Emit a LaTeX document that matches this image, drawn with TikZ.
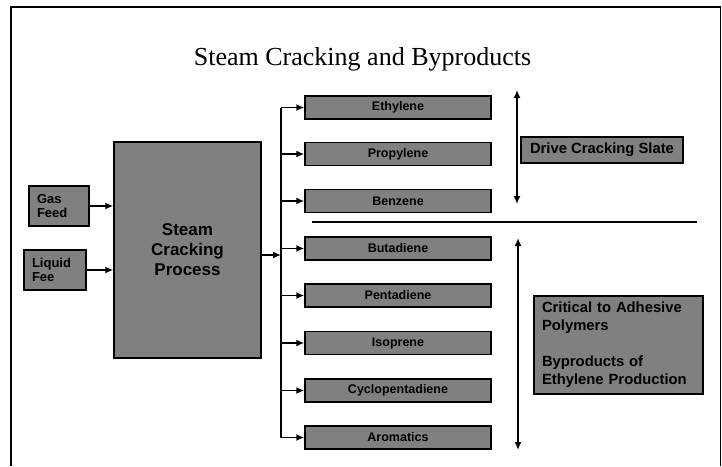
\documentclass[tikz,border=0pt]{standalone}
\usepackage{fontspec}
\setmainfont{Liberation Serif}
\setsansfont{Liberation Sans}
\usetikzlibrary{arrows.meta}
\definecolor{boxgray}{RGB}{128,128,128}
\tikzset{
  gbox/.style={draw=black, line width=1.4pt, fill=boxgray, rectangle, inner sep=0pt,
    font=\sffamily\bfseries},
  prod/.style={gbox, minimum width=186pt, minimum height=23pt,
    font=\sffamily\bfseries\fontsize{12.5}{15}\selectfont},
  feed/.style={gbox, minimum height=40pt, align=left,
    font=\sffamily\bfseries\fontsize{13}{14.5}\selectfont},
  tip/.style={Latex[length=8pt,width=7pt]},
  arr/.style={line width=1.7pt, -{Latex[length=8pt,width=7pt]}},
  darr/.style={line width=1.8pt, {Latex[length=8pt,width=7pt]}-{Latex[length=8pt,width=7pt]}},
  bus/.style={line width=1.7pt},
}
\begin{document}
\begin{tikzpicture}[x=1pt, y=-1pt]
\useasboundingbox (0,0) rectangle (722,466);
% outer frame, open at the bottom
\draw[line width=2pt] (11,466) -- (11,7) -- (720.5,7);
\draw[line width=1pt] (720.5,7) -- (720.5,466);

% title
\node[font=\fontsize{26}{30}\selectfont, anchor=base] (title) at (362.5,65) {Steam Cracking and Byproducts};

% feeds and the cracker
\node[feed, minimum width=60pt, text width=44pt] (gas) at (59,206) {Gas\\Feed};
\node[feed, minimum width=62pt, text width=46pt] (liq) at (55,270) {Liquid\\Fee};
\node[gbox, minimum width=147pt, minimum height=216pt, align=center,
  font=\sffamily\bfseries\fontsize{17}{20}\selectfont] (steam) at (187.5,250) {Steam\\Cracking\\Process};

\draw[arr] (gas.east) -- (gas.east -| steam.west);
\draw[arr] (liq.east) -- (liq.east -| steam.west);

% products
\node[prod] (p1) at (398,107.5) {Ethylene};
\node[prod] (p2) at (398,154) {Propylene};
\node[prod] (p3) at (398,201) {Benzene};
\node[prod] (p4) at (398,248.5) {Butadiene};
\node[prod] (p5) at (398,295.5) {Pentadiene};
\node[prod] (p6) at (398,343) {Isoprene};
\node[prod] (p7) at (398,390.5) {Cyclopentadiene};
\node[prod] (p8) at (398,437.5) {Aromatics};

% distribution bus
\coordinate (bustop) at (281,107.5);
\coordinate (busbot) at (281,437.5);
\draw[bus] (bustop) -- (busbot);
\draw[arr] (steam.east) ++(0,5) coordinate (sout) -- (sout -| bustop);
\foreach \p in {p1,p2,p3,p4,p5,p6,p7,p8}
  \draw[arr] (\p.west -| bustop) -- (\p.west);

% separator between the two product groups
\coordinate (sepl) at (312,222);
\coordinate (sepr) at (697,222);
\draw[line width=1.1pt] (sepl) -- (sepr);

% group spans
\coordinate (ua) at (517,90);
\coordinate (ub) at (517,204);
\draw[darr] (ua) -- (ub);
\coordinate (la) at (518,238);
\coordinate (lb) at (518,450);
\draw[darr] (la) -- (lb);

% group notes
\node[gbox, minimum width=162pt, minimum height=26pt,
  font=\sffamily\bfseries\fontsize{14.8}{18}\selectfont] (drive) at (602,150) {Drive Cracking Slate};
\node[gbox, minimum width=169pt, minimum height=98pt, text width=153pt, align=left,
  font=\sffamily\bfseries\fontsize{14.8}{18}\selectfont] (crit) at (618.5,345)
  {Critical to Adhesive\\Polymers\\[18pt]Byproducts of\\Ethylene Production};
\end{tikzpicture}
\end{document}
